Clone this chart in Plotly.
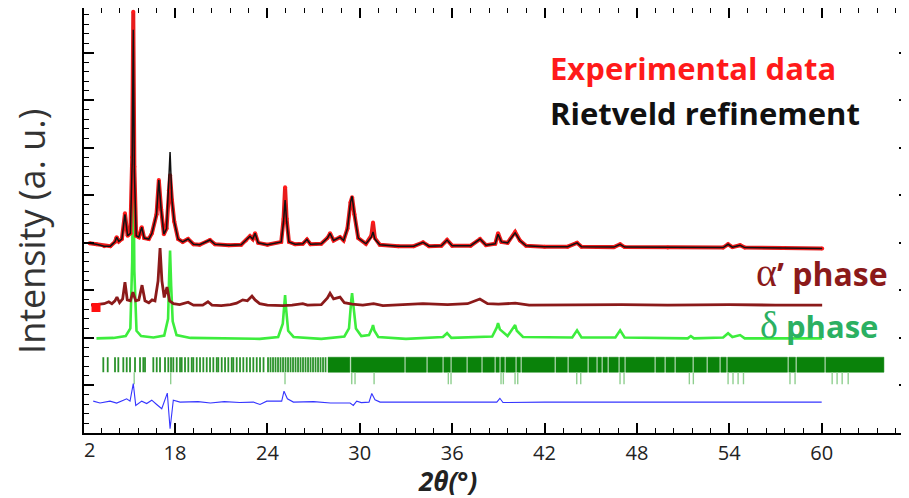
import plotly.graph_objects as go

# ---------------- data ----------------
# Experimental pattern and Rietveld fit (2theta in degrees, intensity in a.u., offset already applied)
TWO_THETA_OBS = [12.45, 12.9, 13.4, 13.8, 14.1, 14.21, 14.35, 14.55, 14.75, 14.92, 15.1, 15.22, 15.29, 15.36,
                 15.48, 15.65, 15.84, 16.0, 16.3, 16.5, 16.8, 16.95, 17.1, 17.28, 17.45, 17.6, 17.68, 17.8,
                 17.95, 18.2, 18.5, 18.85, 19.2, 19.6, 20.27, 20.6, 21.5, 22.3, 22.6, 22.87, 23.05, 23.2,
                 23.4, 24.0, 24.9, 25.05, 25.15, 25.25, 25.4, 25.8, 26.3, 26.57, 26.8, 27.5, 27.9, 28.07,
                 28.3, 28.72, 28.95, 29.2, 29.4, 29.5, 29.65, 29.9, 30.4, 30.75, 30.86, 30.98, 31.3, 32.5,
                 33.5, 34.11, 34.5, 35.3, 35.67, 36.0, 37.2, 37.81, 38.2, 38.8, 38.98, 39.2, 39.6, 40.09,
                 40.4, 40.8, 42.0, 43.5, 44.11, 44.4, 46.5, 46.91, 47.2, 50.0, 53.6, 53.92, 54.2, 54.7,
                 55.0, 57.5, 60.03]
I_OBS = [3.99, 3.97, 3.93, 3.93, 4.02, 4.12, 4.03, 4.08, 4.62, 4.15, 4.2, 5.8, 8.86, 5.6,
         4.15, 4.12, 4.33, 4.1, 4.08, 4.2, 4.6, 5.32, 4.7, 4.18, 4.3, 5.1, 5.42, 4.9,
         4.45, 4.08, 4.02, 4.08, 3.97, 3.96, 4.06, 3.97, 3.95, 3.96, 4.05, 4.14, 4.08, 4.2,
         4.0, 3.96, 4.02, 4.5, 5.17, 4.5, 4.02, 3.97, 3.98, 4.07, 3.97, 3.98, 4.1, 4.2,
         4.05, 4.12, 4.05, 4.3, 4.85, 4.96, 4.6, 4.1, 3.98, 4.15, 4.43, 4.1, 3.96, 3.93,
         3.93, 4.01, 3.93, 3.94, 4.06, 3.94, 3.94, 4.08, 3.95, 3.98, 4.2, 4.02, 4.0, 4.23,
         4.05, 3.94, 3.92, 3.92, 4.0, 3.92, 3.91, 3.97, 3.91, 3.9, 3.9, 3.97, 3.91, 3.95,
         3.9, 3.89, 3.88]
I_CALC = [3.99, 3.97, 3.93, 3.93, 4.02, 4.12, 4.03, 4.08, 4.6, 4.15, 4.2, 5.7, 8.48, 5.5,
          4.15, 4.12, 4.33, 4.1, 4.08, 4.2, 4.6, 5.32, 4.7, 4.18, 4.3, 5.3, 5.91, 4.9,
          4.45, 4.08, 4.02, 4.08, 3.97, 3.96, 4.06, 3.97, 3.95, 3.96, 4.05, 4.14, 4.08, 4.2,
          4.0, 3.96, 4.02, 4.45, 4.9, 4.45, 4.02, 3.97, 3.98, 4.07, 3.97, 3.98, 4.1, 4.2,
          4.05, 4.12, 4.05, 4.3, 4.85, 4.98, 4.6, 4.1, 3.98, 4.12, 4.23, 4.08, 3.96, 3.93,
          3.93, 4.01, 3.93, 3.94, 4.06, 3.94, 3.94, 4.08, 3.95, 3.98, 4.18, 4.02, 4.0, 4.21,
          4.05, 3.94, 3.92, 3.92, 4.0, 3.92, 3.91, 3.97, 3.91, 3.9, 3.9, 3.97, 3.91, 3.95,
          3.9, 3.89, 3.88]

# alpha' phase contribution
TWO_THETA_ALPHA = [12.55, 13.0, 13.4, 13.7, 13.9, 14.1, 14.23, 14.4, 14.6, 14.75, 14.9, 15.1, 15.27, 15.45,
                   15.65, 15.86, 16.05, 16.3, 16.51, 16.7, 16.9, 17.03, 17.15, 17.3, 17.48, 17.65, 17.9,
                   18.3, 18.85, 19.2, 19.8, 20.14, 20.4, 21.0, 21.6, 22.0, 22.4, 22.7, 23.0, 23.2, 23.5,
                   24.0, 25.0, 25.6, 26.3, 26.6, 27.5, 27.9, 28.07, 28.3, 28.72, 29.0, 29.5, 30.2, 30.9,
                   31.5, 34.1, 35.7, 37.0, 37.8, 38.3, 39.0, 40.1, 41.0, 44.1, 47.0, 50.0, 54.0, 57.0, 60.03]
I_ALPHA = [2.69, 2.70, 2.72, 2.76, 2.72, 2.78, 2.86, 2.74, 2.82, 3.17, 2.80, 2.78, 2.96, 2.78,
           2.80, 3.11, 2.78, 2.74, 2.80, 2.78, 3.2, 3.89, 3.2, 2.85, 3.07, 2.78, 2.72,
           2.70, 2.75, 2.69, 2.69, 2.76, 2.69, 2.68, 2.70, 2.73, 2.80, 2.78, 2.88, 2.80, 2.72,
           2.69, 2.68, 2.69, 2.72, 2.69, 2.70, 2.84, 2.94, 2.82, 2.86, 2.74, 2.71, 2.69, 2.72,
           2.68, 2.72, 2.70, 2.72, 2.82, 2.72, 2.71, 2.73, 2.69, 2.70, 2.70, 2.69, 2.70, 2.69, 2.69]

# delta phase contribution
TWO_THETA_DELTA = [12.9, 14.0, 14.8, 15.1, 15.22, 15.29, 15.36, 15.5, 15.8, 16.6, 17.3, 17.55, 17.62, 17.68,
                   17.75, 17.85, 18.1, 19.0, 23.5, 24.7, 25.0, 25.1, 25.15, 25.22, 25.35, 25.7, 27.5,
                   29.0, 29.3, 29.45, 29.5, 29.58, 29.75, 30.1, 30.6, 30.8, 30.86, 30.95, 31.2, 33.0,
                   35.4, 35.67, 35.95, 38.6, 38.9, 38.98, 39.1, 39.6, 39.95, 40.09, 40.2, 40.6, 43.8,
                   44.11, 44.4, 46.6, 46.91, 47.2, 51.3, 51.5, 51.7, 53.6, 53.92, 54.2, 54.7, 55.0,
                   58.0, 60.03]
I_DELTA = [1.99, 2.0, 2.04, 2.2, 3.6, 6.3, 3.4, 2.15, 2.04, 2.01, 2.05, 2.4, 3.3, 3.84,
           3.1, 2.35, 2.06, 2.0, 1.98, 2.02, 2.3, 2.75, 2.9, 2.6, 2.15, 2.02, 1.98,
           2.03, 2.2, 2.8, 2.94, 2.7, 2.2, 2.04, 2.06, 2.2, 2.27, 2.15, 2.02, 1.98,
           2.02, 2.10, 2.0, 2.03, 2.22, 2.31, 2.18, 2.04, 2.2, 2.27, 2.15, 2.02, 2.01,
           2.16, 2.01, 2.01, 2.16, 2.01, 1.99, 2.04, 1.99, 2.01, 2.10, 2.02, 2.06, 1.99,
           1.99, 1.99]

# difference curve (obs - calc, offset)
TWO_THETA_DIFF = [12.69, 13.13, 13.78, 14.21, 14.65, 14.86, 15.08, 15.29, 15.45, 15.84, 16.16, 16.49,
                  16.81, 17.14, 17.50, 17.68, 17.89, 18.33, 19.5, 20.3, 21.2, 22.2, 23.09, 23.52, 23.96,
                  24.93, 25.08, 25.30, 25.69, 27.0, 28.1, 29.37, 29.58, 29.80, 30.1, 30.6, 30.78, 30.99,
                  31.32, 34.0, 37.0, 38.9, 39.1, 39.3, 42.0, 46.0, 50.0, 54.0, 57.0, 60.0]
I_DIFF = [0.67, 0.63, 0.67, 0.63, 0.69, 0.72, 0.67, 1.04, 0.58, 0.67, 0.62, 0.69,
          0.60, 0.51, 0.84, 0.09, 0.69, 0.65, 0.66, 0.63, 0.66, 0.64, 0.65, 0.60, 0.67,
          0.67, 0.88, 0.72, 0.65, 0.66, 0.63, 0.63, 0.58, 0.67, 0.64, 0.65, 0.83, 0.70,
          0.65, 0.65, 0.64, 0.65, 0.73, 0.64, 0.65, 0.65, 0.65, 0.65, 0.65, 0.65]

# Bragg reflection positions, alpha' phase (resolved ticks)
ALPHA_TICKS = [13.344, 13.630, 14.104, 14.319, 14.643, 14.864, 15.079, 15.403, 15.728, 15.942, 16.053,
               16.592, 16.813, 17.027, 17.352, 17.566, 17.742, 17.891, 18.112, 18.327, 18.436, 18.651,
               18.865, 19.086, 19.190, 19.411, 19.625, 19.839, 20.060, 20.275, 20.489, 20.710, 20.813,
               21.034, 21.250, 21.463, 21.684, 21.788, 22.008, 22.223, 22.437, 22.658, 22.872, 23.087,
               23.308, 23.522, 23.749, 24.041, 24.203, 24.366, 24.528, 24.691, 24.853, 25.016, 25.178,
               25.340, 25.503, 25.665, 25.828, 25.990, 26.152, 26.314, 26.477, 26.640, 26.802, 26.964,
               27.127, 27.289, 27.451, 27.614, 27.776]
# alpha' reflections too dense to resolve: continuous band with visible gaps
ALPHA_BAND_START = 27.94
ALPHA_BAND_END = 64.04
ALPHA_BAND_GAPS = [29.40, 32.94, 34.37, 35.41, 35.93, 36.97, 37.94, 38.79, 39.11, 39.44, 40.15, 40.48,
                   42.69, 43.53, 44.83, 45.41, 45.74, 46.13, 46.84, 47.23, 49.18, 49.83, 50.48, 51.65,
                   52.56, 53.40, 53.85, 57.82, 58.34, 60.22]
# Bragg reflection positions, delta phase
DELTA_TICKS = [15.35, 17.72, 25.145, 29.478, 29.692, 30.93, 35.751, 35.926, 39.174, 39.324, 40.084,
               40.259, 44.091, 44.351, 46.903, 47.163, 51.404, 51.664, 53.92, 54.24, 54.57, 54.92,
               57.94, 58.27, 60.68, 61.00, 61.33, 61.72]

X_TICK_VALS = [18, 24, 30, 36, 42, 48, 54, 60]
X_TICK_TEXT = ["18", "24", "30", "36", "42", "48", "54", "60"]
FIRST_TICK_VAL = 12
FIRST_TICK_TEXT = "2"

# ---------------- figure ----------------
FONT = "Open Sans"
fig = go.Figure()

# delta phase
fig.add_trace(go.Scatter(x=TWO_THETA_DELTA, y=I_DELTA, mode="lines",
                         line=dict(color="#3ded3d", width=2.6), showlegend=False))
# alpha' phase
fig.add_trace(go.Scatter(x=TWO_THETA_ALPHA, y=I_ALPHA, mode="lines",
                         line=dict(color="#8b1a1a", width=2.8), showlegend=False))
# stray red square marker at left of alpha' curve
fig.add_trace(go.Scatter(x=[12.87], y=[2.64], mode="markers",
                         marker=dict(symbol="square", color="#ff1010", size=9), showlegend=False))
# experimental
fig.add_trace(go.Scatter(x=TWO_THETA_OBS, y=I_OBS, mode="lines+markers",
                         line=dict(color="#e81c1c", width=4),
                         marker=dict(color="#ff1a1a", size=4), showlegend=False))
# Rietveld calc
fig.add_trace(go.Scatter(x=TWO_THETA_OBS, y=I_CALC, mode="lines",
                         line=dict(color="#111111", width=1.5), showlegend=False))

# Bragg ticks alpha'
A_TOP, A_BOT = 1.594, 1.278
xs, ys = [], []
for t in ALPHA_TICKS:
    xs += [t, t, None]
    ys += [A_BOT, A_TOP, None]
fig.add_trace(go.Scatter(x=xs, y=ys, mode="lines", line=dict(color="#2a922a", width=1.8),
                         showlegend=False, hoverinfo="skip"))
# dense band split at gaps
HALF_GAP = 0.045
edges = [ALPHA_BAND_START] + [v for g in ALPHA_BAND_GAPS for v in (g - HALF_GAP, g + HALF_GAP)] + [ALPHA_BAND_END]
bx, by = [], []
for i in range(0, len(edges), 2):
    a, b = edges[i], edges[i + 1]
    bx += [a, b, b, a, a, None]
    by += [A_BOT, A_BOT, A_TOP, A_TOP, A_BOT, None]
fig.add_trace(go.Scatter(x=bx, y=by, mode="lines", fill="toself", fillcolor="#0a820a",
                         line=dict(color="#0a820a", width=0.5), showlegend=False, hoverinfo="skip"))

# Bragg ticks delta
D_TOP, D_BOT = 1.278, 1.025
xs, ys = [], []
for t in DELTA_TICKS:
    xs += [t, t, None]
    ys += [D_BOT, D_TOP, None]
fig.add_trace(go.Scatter(x=xs, y=ys, mode="lines", line=dict(color="#8fcf8f", width=1.4),
                         showlegend=False, hoverinfo="skip"))

# difference
fig.add_trace(go.Scatter(x=TWO_THETA_DIFF, y=I_DIFF, mode="lines",
                         line=dict(color="#3535ff", width=1.1), showlegend=False))

axis_common = dict(showline=True, linecolor="black", linewidth=2, mirror="allticks",
                   ticks="inside", ticklen=10, tickwidth=2, tickcolor="black",
                   showgrid=False, zeroline=False, automargin=False)

fig.update_xaxes(range=[12.09, 65.67], tickmode="array", tickvals=X_TICK_VALS, ticktext=X_TICK_TEXT,
                 tickfont=dict(family=FONT, size=20, color="#222"), ticklabelstandoff=1,
                 minor=dict(tick0=12, dtick=1.2, ticks="inside", ticklen=5, tickcolor="black", tickwidth=1),
                 **axis_common)
fig.update_yaxes(range=[0, 8.94], tick0=0, dtick=1, showticklabels=False,
                 minor=dict(tick0=0, dtick=0.2, ticks="inside", ticklen=5, tickcolor="black", tickwidth=1),
                 **axis_common)

SERIF = "Liberation Serif"
annotations = [
    dict(x=FIRST_TICK_VAL + 0.42, y=0, xref="x", yref="y", text=FIRST_TICK_TEXT, showarrow=False,
         yanchor="top", yshift=-1, font=dict(family=FONT, size=20, color="#222")),
    dict(x=0.44, y=-0.1135, xref="paper", yref="paper", xanchor="center", yanchor="middle",
         height=28, valign="middle",
         text="<b><i>2θ(°)</i></b>", showarrow=False, font=dict(family=FONT, size=26, color="#222")),
    dict(x=-0.0645, y=0.475, xref="paper", yref="paper", xanchor="center", yanchor="middle",
         text="Intensity (a. u.)", textangle=-90, showarrow=False,
         font=dict(family=FONT, size=36, color="#333")),
    dict(x=42.23, y=7.68, xref="x", yref="y", xanchor="left", yanchor="middle",
         text="<b>Experimental data</b>", showarrow=False, font=dict(family=FONT, size=31, color="#ff1a1a")),
    dict(x=42.23, y=6.73, xref="x", yref="y", xanchor="left", yanchor="middle",
         text="<b>Rietveld refinement</b>", showarrow=False, font=dict(family=FONT, size=31, color="#111")),
    dict(x=64.44, y=3.38, xref="x", yref="y", xanchor="right", yanchor="middle",
         text=f"<span style='font-family:{SERIF};font-size:40px'>α</span><b>’ phase</b>", showarrow=False,
         font=dict(family=FONT, size=32, color="#8b1a1a")),
    dict(x=63.79, y=2.27, xref="x", yref="y", xanchor="right", yanchor="middle",
         text=f"<span style='font-family:{SERIF};font-size:38px'>δ</span><b> phase</b>", showarrow=False,
         font=dict(family=FONT, size=31, color="#2bb062")),
]

# the page body adds an 8 px offset, so the figure is 8 px smaller than the window
fig.update_layout(width=901, height=490, margin=dict(l=76, r=0, t=0, b=65),
                  paper_bgcolor="white", plot_bgcolor="white", annotations=annotations,
                  font=dict(family=FONT))

fig.write_html("out.html")
